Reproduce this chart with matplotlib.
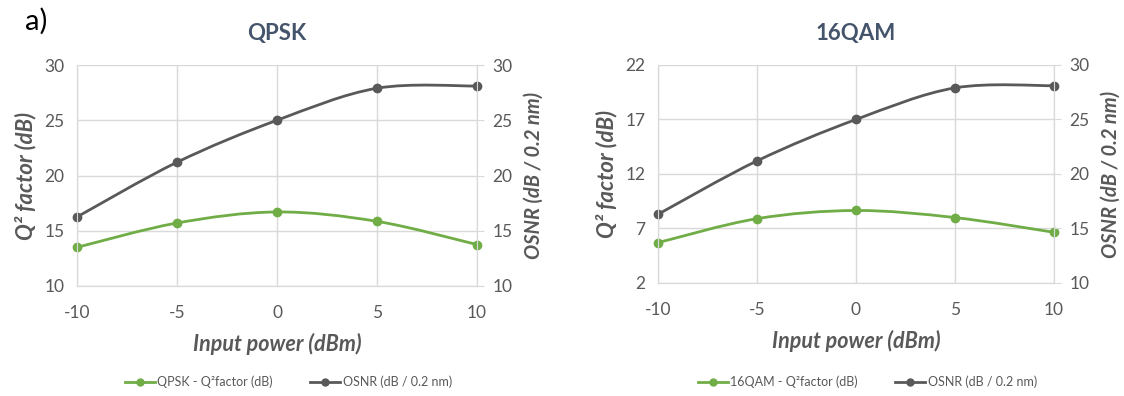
import numpy as np
import matplotlib
matplotlib.use("Agg")
import matplotlib.pyplot as plt
from matplotlib.path import Path
from matplotlib.patches import PathPatch
from matplotlib.lines import Line2D

plt.rcParams['font.family'] = ['Lato', 'DejaVu Sans']
plt.rcParams['axes.unicode_minus'] = False

power = [-10, -5, 0, 5, 10]

qpsk_q = [13.5, 15.7, 16.7, 15.85, 13.75]
qpsk_osnr = [16.25, 21.2, 25.0, 27.9, 28.1]

qam_q = [5.7, 7.9, 8.65, 8.0, 6.65]
qam_osnr = [16.3, 21.2, 25.0, 27.9, 28.1]

GREEN = "#70AD47"
DGRAY = "#595959"
GRID = "#D9D9D9"
TXT = "#595959"
TITLE = "#44546A"


def smooth_path(xs, ys):
    # excel style smoothed line: cubic bezier, catmull-rom like control points
    pts = np.column_stack([xs, ys]).astype(float)
    n = len(pts)
    verts = [pts[0]]
    codes = [Path.MOVETO]
    for i in range(n - 1):
        p0 = pts[i - 1] if i > 0 else pts[i]
        p1 = pts[i]
        p2 = pts[i + 1]
        p3 = pts[i + 2] if i + 2 < n else pts[i + 1]
        c1 = p1 + (p2 - p0) / 6.0
        c2 = p2 - (p3 - p1) / 6.0
        verts += [c1, c2, p2]
        codes += [Path.CURVE4] * 3
    return Path(verts, codes)


def panel(rect, title, q, osnr, ylim, yticks, qname):
    ax = fig.add_axes(rect)
    ax2 = ax.twinx()
    ax.set_xlim(-10, 10)
    ax.set_ylim(*ylim)
    ax.set_yticks(yticks)
    ax.set_xticks(power)
    ax2.set_ylim(10, 30)
    ax2.set_yticks([10, 15, 20, 25, 30])

    ax.grid(True, color=GRID, lw=1)
    ax.set_axisbelow(True)
    for a in (ax, ax2):
        for s in a.spines.values():
            s.set_color(GRID)
        a.spines['top'].set_visible(False)
    ax.tick_params(axis='both', length=0, labelsize=12.5, labelcolor=TXT)
    ax.tick_params(axis='x', pad=14)
    ax.tick_params(axis='y', pad=9)
    ax2.tick_params(axis='y', length=5, color=GRID, labelsize=12.5, labelcolor=TXT, pad=6)

    ax.add_patch(PathPatch(smooth_path(power, q), fill=False, ec=GREEN, lw=2, clip_on=False))
    ax.plot(power, q, 'o', color=GREEN, ms=6, clip_on=False)
    ax2.add_patch(PathPatch(smooth_path(power, osnr), fill=False, ec=DGRAY, lw=2, clip_on=False))
    ax2.plot(power, osnr, 'o', color=DGRAY, ms=6, clip_on=False)

    ax.set_title(title, fontsize=16, fontweight='bold', color=TITLE, pad=18)
    ax.set_xlabel("Input power (dBm)", fontsize=15.5, fontweight='bold', style='italic', color=TXT, labelpad=8)
    ax.set_ylabel("Q² factor (dB)", fontsize=16, fontweight='bold', style='italic', color=TXT, labelpad=6)
    ax2.set_ylabel("OSNR (dB / 0.2 nm)", fontsize=14.5, fontweight='bold', style='italic', color=TXT, labelpad=8)

    handles = [Line2D([], [], color=GREEN, lw=2, marker='o', ms=5),
               Line2D([], [], color=DGRAY, lw=2, marker='o', ms=5)]
    cx = rect[0] + rect[2] / 2
    fig.legend(handles, [qname, "OSNR (dB / 0.2 nm)"], loc='center',
               bbox_to_anchor=(cx + 0.01, 0.035), ncol=2, frameon=False,
               fontsize=9, labelcolor=TXT, handlelength=2.4, handletextpad=0.2,
               columnspacing=3)
    return ax, ax2


fig = plt.figure(figsize=(11.24, 3.96), dpi=100)
panel([0.0685, 0.2778, 0.3559, 0.558], "QPSK", qpsk_q, qpsk_osnr,
      (10, 30), [10, 15, 20, 25, 30], "QPSK - Q²factor (dB)")
panel([0.5854, 0.2854, 0.3523, 0.5505], "16QAM", qam_q, qam_osnr,
      (2, 22), [2, 7, 12, 17, 22], "16QAM - Q²factor (dB)")
fig.text(0.022, 0.945, "a)", fontsize=21, color='black', va='center')

fig.savefig("out.png", dpi=100)
